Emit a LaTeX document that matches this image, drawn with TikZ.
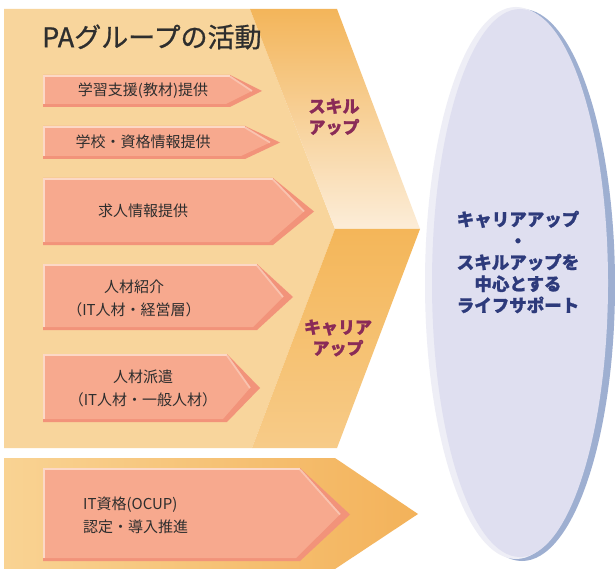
\documentclass[tikz,border=0pt]{standalone}
\usepackage{fontspec}
\newfontfamily\jp{Noto Sans CJK JP}
\newfontfamily\jptitle{Noto Sans CJK JP}[FakeBold=0.8]
\newfontfamily\jpheavy{Noto Sans CJK JP}[BoldFeatures={FakeBold=1.2}]
\definecolor{panel}{HTML}{F8D59C}
\definecolor{bandtop}{HTML}{F3B55A}
\definecolor{bandbot}{HTML}{FCEDD8}
\definecolor{bandtwotop}{HTML}{F4B659}
\definecolor{bandtwobot}{HTML}{F7CB88}
\definecolor{botleft}{HTML}{F9D393}
\definecolor{botright}{HTML}{F3B25A}
\definecolor{arrmain}{HTML}{F7A98E}
\definecolor{arrdark}{HTML}{F2937A}
\definecolor{arrlight}{HTML}{FCD8C6}
\definecolor{maroon}{HTML}{8A2B57}
\definecolor{navy}{HTML}{2D3A7B}
\definecolor{ellfill}{HTML}{DFDFF0}
\definecolor{ellrim}{HTML}{EEEEF6}
\definecolor{ellshadow}{HTML}{9EAFD1}
\definecolor{txtgray}{HTML}{2E2E2E}
\tikzset{
  boxtext/.style={font=\jp\fontsize{15}{23}\selectfont, text=txtgray, align=center, inner sep=0pt},
  maroontext/.style={font=\jpheavy\bfseries\fontsize{17}{21}\selectfont, text=maroon, align=center, inner sep=0pt},
}
% #1 left, #2 top, #3 bottom, #4 body end, #5 tip
\newcommand{\salmonarrow}[5]{%
  \fill[arrdark] (#1,#2) -- (#4,#2) -- (#5,{(#2+#3)/2}) -- (#4,#3) -- (#1,#3) -- cycle;
  \fill[arrmain] (#1+1,#2+1.5) -- (#4,#2+1.5) -- (#5-10,{(#2+#3)/2}) -- (#4-4,#3-3) -- (#1+1,#3-3) -- cycle;
  \draw[arrlight, line width=1.6pt] (#1+1,#3-3) -- (#1+1,#2+0.8) -- (#4,#2+0.8);
  \draw[arrlight!70!arrdark, line width=1.8pt] (#4,#2+1.5) -- (#5-10,{(#2+#3)/2});
}
\begin{document}
\begin{tikzpicture}[x=1pt,y=-1pt]
\useasboundingbox (0,0) rectangle (615,569);
\fill[white] (0,0) rectangle (615,569);
% main panel
\fill[panel] (4,9) -- (250,9) -- (335,229) -- (252,448) -- (4,448) -- cycle;
% upper band (skill up)
\shade[top color=bandtop, bottom color=bandbot] (250,9) -- (337,9) -- (420,229) -- (335,229) -- cycle;
% lower band (career up)
\shade[top color=bandtwotop, bottom color=bandtwobot] (335,229) -- (420,229) -- (337,448) -- (252,448) -- cycle;
% bottom arrow
\shade[left color=botleft, right color=botright] (4,458) -- (335,458) -- (418,514) -- (335,569) -- (4,569) -- cycle;
% salmon arrows
\salmonarrow{43}{75}{107}{230}{262}
\salmonarrow{43}{126}{159}{245}{280}
\salmonarrow{43}{178}{245}{273}{314}
\salmonarrow{43}{264}{330}{257}{293}
\salmonarrow{43}{354}{422}{227}{260}
\salmonarrow{43}{468}{561}{300}{350}
% title
\node[font=\jptitle\fontsize{27}{30}\selectfont, text=txtgray, anchor=west, inner sep=0pt] (title) at (42,37) {PAグループの活動};
% box texts
\node[boxtext] (b1) at (143,91) {学習支援(教材)提供};
\node[boxtext] (b2) at (143,142) {学校・資格情報提供};
\node[boxtext] (b3) at (143,211) {求人情報提供};
\node[boxtext] (b4) at (134,298) {人材紹介\\（IT人材・経営層）};
\node[boxtext] (b5) at (143,388) {人材派遣\\（IT人材・一般人材）};
\node[boxtext, align=left, anchor=west] (b6) at (83,515) {IT資格(OCUP)\\認定・導入推進};
% band labels
\node[maroontext] (skill) at (334,117) {スキル\\アップ};
\node[maroontext] (career) at (338,338) {キャリア\\アップ};
% ellipse
\fill[ellshadow] (522,285) ellipse [x radius=93pt, y radius=276pt];
\fill[ellrim] (516,283) ellipse [x radius=91pt, y radius=276pt];
\fill[ellfill] (520,283) ellipse [x radius=88pt, y radius=274pt];
\node[font=\jpheavy\bfseries\fontsize{17.5}{21.5}\selectfont, text=navy, align=center, inner sep=0pt] (goal) at (518,262)
  {キャリアアップ\\・\\スキルアップを\\中心とする\\ライフサポート};
\end{tikzpicture}
\end{document}
